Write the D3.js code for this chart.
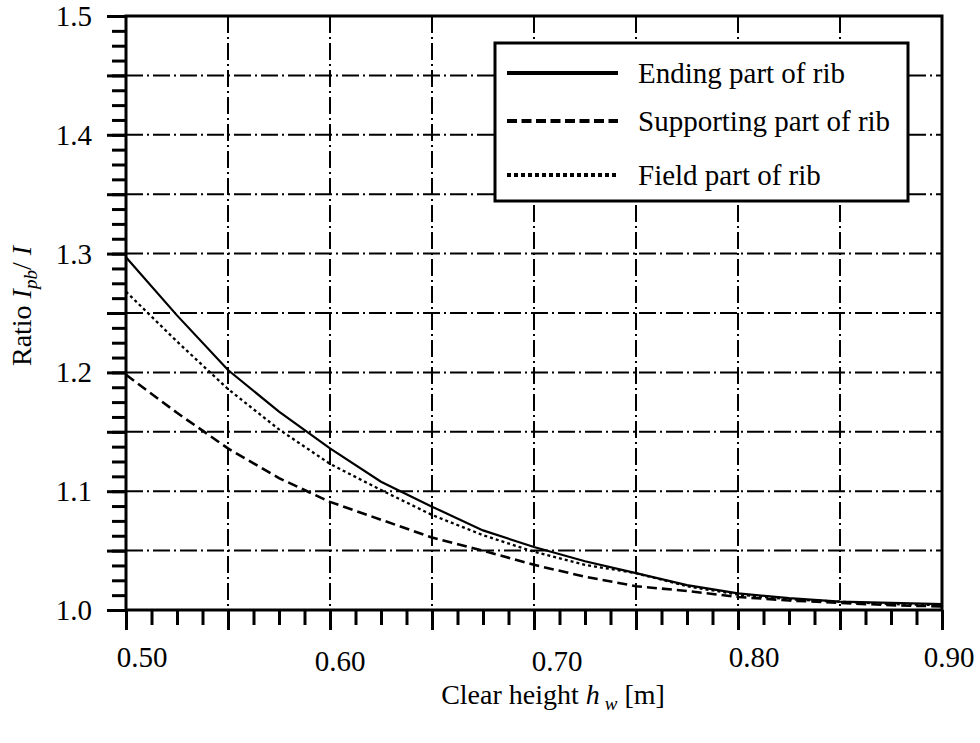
<!DOCTYPE html>
<html lang="en">
<head>
<meta charset="utf-8">
<title>Ratio Ipb/I against clear height</title>
<script src="https://cdn.jsdelivr.net/npm/d3@7"></script>
<style>
  body { margin: 0; background: #fff; }
  svg text { font-family: "Liberation Serif", "Times New Roman", serif; fill: #000; }
</style>
</head>
<body>
<script>
  /* clear height of the rib [m] */
  var hw = [0.500, 0.525, 0.550, 0.575, 0.600, 0.625, 0.650, 0.675, 0.700,
            0.725, 0.750, 0.775, 0.800, 0.825, 0.850, 0.875, 0.900];

  /* ratio Ipb/I for each part of the rib */
  var ending     = [1.297, 1.248, 1.202, 1.167, 1.136, 1.108, 1.087, 1.067, 1.053,
                    1.041, 1.031, 1.021, 1.014, 1.010, 1.007, 1.006, 1.005];
  var supporting = [1.198, 1.166, 1.136, 1.111, 1.091, 1.076, 1.061, 1.050, 1.038,
                    1.028, 1.020, 1.016, 1.011, 1.008, 1.006, 1.004, 1.003];
  var field      = [1.268, 1.226, 1.186, 1.152, 1.123, 1.101, 1.080, 1.063, 1.049,
                    1.038, 1.031, 1.020, 1.013, 1.009, 1.007, 1.005, 1.004];

  var seriesNames = ["Ending part of rib", "Supporting part of rib", "Field part of rib"];
  var xLabels = ["0.50", "0.60", "0.70", "0.80", "0.90"];
  var yLabels = ["1.0", "1.1", "1.2", "1.3", "1.4", "1.5"];

  var w = 980, h = 743;
  // plot box (named so they don't clash with window.top)
  var pLeft = 126, pRight = 942, pTop = 16, pBottom = 610;

  // the x tick labels sit a little to the right of their ticks, unevenly
  var xLabelDx = [16, 10, 23, 16, 7];
  var xLabelDy = [0, 4, 4, 0, 0];

  var xScale = d3.scaleLinear().domain([0.5, 0.9]).range([pLeft, pRight]);
  var yScale = d3.scaleLinear().domain([1.0, 1.5]).range([pBottom, pTop]);

  var svg = d3.select("body").append("svg")
      .attr("width", w)
      .attr("height", h);

  // dash-dot grid every 0.05
  var gridX = d3.range(1, 8).map(function(i) { return 0.5 + i * 0.05; });
  var gridY = d3.range(1, 10).map(function(i) { return 1.0 + i * 0.05; });

  svg.append("g").selectAll("line")
      .data(gridX).enter().append("line")
      .attr("x1", function(d) { return xScale(d); })
      .attr("x2", function(d) { return xScale(d); })
      .attr("y1", pTop).attr("y2", pBottom)
      .attr("stroke", "#000").attr("stroke-width", 2)
      .attr("stroke-dasharray", "17,4,2,4");

  svg.append("g").selectAll("line")
      .data(gridY).enter().append("line")
      .attr("y1", function(d) { return yScale(d); })
      .attr("y2", function(d) { return yScale(d); })
      .attr("x1", pLeft).attr("x2", pRight)
      .attr("stroke", "#000").attr("stroke-width", 2)
      .attr("stroke-dasharray", "17,4,2,4");

  // curves
  var series = [
    { values: ending,     width: 2.2, dash: null },
    { values: supporting, width: 2.6, dash: "10,5" },
    { values: field,      width: 2.3, dash: "3,3" }
  ];

  var line = d3.line()
      .x(function(d) { return xScale(d[0]); })
      .y(function(d) { return yScale(d[1]); });

  series.forEach(function(s) {
    svg.append("path")
        .datum(hw.map(function(x, i) { return [x, s.values[i]]; }))
        .attr("d", line)
        .attr("fill", "none")
        .attr("stroke", "#000")
        .attr("stroke-width", s.width)
        .attr("stroke-dasharray", s.dash);
  });

  // axes: minor ticks every 0.0125, major every 0.05
  var minorX = d3.range(0, 33).map(function(i) { return 0.5 + i * 0.0125; });
  var minorY = d3.range(0, 41).map(function(i) { return 1.0 + i * 0.0125; });
  var majorX = d3.range(0, 9).map(function(i) { return 0.5 + i * 0.05; });
  var majorY = d3.range(0, 11).map(function(i) { return 1.0 + i * 0.05; });

  function drawAxis(axis) {
    var g = svg.append("g").call(axis);
    g.select(".domain").remove();
    g.selectAll("text").remove();
    g.selectAll("line").attr("stroke", "#000").attr("stroke-width", 3);
    return g;
  }

  drawAxis(d3.axisBottom(xScale).tickValues(minorX).tickSize(15))
      .attr("transform", "translate(0," + pBottom + ")");
  drawAxis(d3.axisBottom(xScale).tickValues(majorX).tickSize(20))
      .attr("transform", "translate(0," + pBottom + ")");
  drawAxis(d3.axisLeft(yScale).tickValues(minorY).tickSize(14))
      .attr("transform", "translate(" + pLeft + ",0)");
  drawAxis(d3.axisLeft(yScale).tickValues(majorY).tickSize(19))
      .attr("transform", "translate(" + pLeft + ",0)");

  // frame
  svg.append("rect")
      .attr("x", pLeft).attr("y", pTop)
      .attr("width", pRight - pLeft).attr("height", pBottom - pTop)
      .attr("fill", "none").attr("stroke", "#000").attr("stroke-width", 3);

  // tick labels
  svg.append("g").selectAll("text")
      .data(xLabels).enter().append("text")
      .attr("x", function(d, i) { return xScale(+d) + xLabelDx[i]; })
      .attr("y", function(d, i) { return 667 + xLabelDy[i]; })
      .attr("text-anchor", "middle")
      .attr("font-size", 29)
      .text(function(d) { return d; });

  svg.append("g").selectAll("text")
      .data(yLabels).enter().append("text")
      .attr("x", 92)
      .attr("y", function(d) { return yScale(+d) + 10; })
      .attr("text-anchor", "end")
      .attr("font-size", 29)
      .text(function(d) { return d; });

  // axis titles
  var xt = svg.append("text")
      .attr("x", 553).attr("y", 704)
      .attr("text-anchor", "middle")
      .attr("font-size", 28);
  xt.append("tspan").text("Clear height ");
  xt.append("tspan").attr("font-style", "italic").text("h");
  xt.append("tspan").attr("font-style", "italic").attr("font-size", 19)
      .attr("dx", 5).attr("dy", 6).text("w");
  xt.append("tspan").attr("dy", -6).text(" [m]");

  var yt = svg.append("text")
      .attr("transform", "translate(31,306) rotate(-90)")
      .attr("text-anchor", "middle")
      .attr("font-size", 28);
  yt.append("tspan").text("Ratio ");
  yt.append("tspan").attr("font-style", "italic").text("I");
  yt.append("tspan").attr("font-style", "italic").attr("font-size", 19)
      .attr("dy", 6).text("pb");
  yt.append("tspan").attr("dy", -6).text("/ ");
  yt.append("tspan").attr("font-style", "italic").text("I");

  // legend
  var legend = svg.append("g");
  legend.append("rect")
      .attr("x", 495).attr("y", 43)
      .attr("width", 413).attr("height", 158)
      .attr("fill", "#fff").attr("stroke", "#000").attr("stroke-width", 3);

  var legendDash = [null, "10,4.5", "4,3"];
  var rowY = [73, 121, 175];
  seriesNames.forEach(function(name, i) {
    legend.append("line")
        .attr("x1", 507).attr("x2", 618)
        .attr("y1", rowY[i]).attr("y2", rowY[i])
        .attr("stroke", "#000").attr("stroke-width", 4)
        .attr("stroke-dasharray", legendDash[i]);
    legend.append("text")
        .attr("x", 638).attr("y", rowY[i] + 10)
        .attr("font-size", 29)
        .text(name);
  });
</script>
</body>
</html>
